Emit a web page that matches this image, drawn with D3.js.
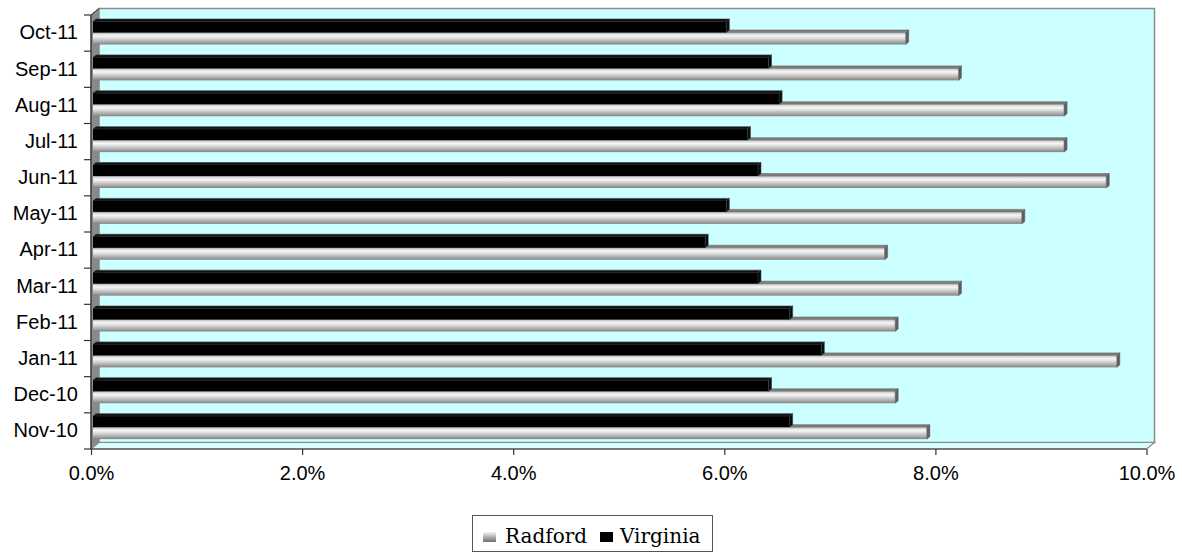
<!DOCTYPE html>
<html><head><meta charset="utf-8">
<script src="https://cdn.jsdelivr.net/npm/d3@7"></script>
<style>html,body{margin:0;padding:0;background:#fff;} svg{display:block;}</style>
</head><body>
<svg id="chart" width="1182" height="554"></svg>
<script>
const categories = ["Nov-10","Dec-10","Jan-11","Feb-11","Mar-11","Apr-11","May-11","Jun-11","Jul-11","Aug-11","Sep-11","Oct-11"];
const radford  = [7.9, 7.6, 9.7, 7.6, 8.2, 7.5, 8.8, 9.6, 9.2, 9.2, 8.2, 7.7];
const virginia = [6.6, 6.4, 6.9, 6.6, 6.3, 5.8, 6.0, 6.3, 6.2, 6.5, 6.4, 6.0];
const xTickValues = [0, 2, 4, 6, 8, 10];
const seriesNames = ["Radford", "Virginia"];

const svg = d3.select("#chart");
const defs = svg.append("defs");

// gradients
const g1 = defs.append("linearGradient").attr("id","gBar").attr("x1",0).attr("y1",0).attr("x2",0).attr("y2",1);
[[0,"#8c8c8c"],[0.1,"#d6d6d6"],[0.28,"#f7f7f7"],[0.5,"#d9d9d9"],[0.8,"#a6a6a6"],[1,"#828282"]]
  .forEach(([o,c]) => g1.append("stop").attr("offset",o).attr("stop-color",c));
const g2 = defs.append("linearGradient").attr("id","gSw").attr("x1",0).attr("y1",0).attr("x2",0).attr("y2",1);
[[0,"#f4f4f4"],[1,"#6e6e6e"]].forEach(([o,c]) => g2.append("stop").attr("offset",o).attr("stop-color",c));

const X0 = 91, X1 = 1146.5, YB = 449, YT = 15;
const DX = 8, DY = -6.5;      // wall depth
const BDX = 3, BDY = -2.5;    // bar depth

const x = d3.scaleLinear().domain([0, 10]).range([X0, X1]);
const yAxisScale = d3.scaleBand().domain(categories).range([YB, YT]);
const yBar = d3.scaleBand().domain(categories).range([446, 15.5]);

// walls
svg.append("polygon")
  .attr("points", [[X0,YT],[X0+DX,YT+DY],[X0+DX,YB+DY],[X0,YB]].join(" "))
  .attr("fill","#8a8a8a").attr("stroke","#6a6a6a").attr("stroke-width",1);
svg.append("rect")
  .attr("x", X0+DX).attr("y", YT+DY).attr("width", X1-X0).attr("height", YB-YT)
  .attr("fill","#ccffff").attr("stroke","#8c8c8c").attr("stroke-width",1.5);
svg.append("polygon")
  .attr("points", [[X0,YB],[X1,YB],[X1+DX,YB+DY],[X0+DX,YB+DY]].join(" "))
  .attr("fill","#d8ffff").attr("stroke","#8c8c8c").attr("stroke-width",1.2);

// bars
const barG = svg.append("g");
function drawBar(g, x0, x1, y, h, front, top, side, stroke) {
  g.append("polygon")
    .attr("points", [[x0,y],[x1,y],[x1+BDX,y+BDY],[x0+BDX,y+BDY]].join(" "))
    .attr("fill", top).attr("stroke", stroke).attr("stroke-width",0.6);
  g.append("rect").attr("x", x0).attr("y", y).attr("width", x1-x0).attr("height", h).attr("fill", front);
  g.append("polygon")
    .attr("points", [[x1,y],[x1+BDX,y+BDY],[x1+BDX,y+h+BDY],[x1,y+h]].join(" "))
    .attr("fill", side).attr("stroke", stroke).attr("stroke-width",0.6);
}
categories.forEach((c, i) => {
  const top = yBar(c);
  const g = barG.append("g");
  drawBar(g, x(0)+2, x(radford[i])+2, top+17, 12, "url(#gBar)", "#7c7c7c", "#5e5e5e", "#6a6a6a");
  drawBar(g, x(0)+2, x(virginia[i])+2, top+6, 11, "#000", "#111", "#0a0a0a", "#3a3a3a");
});

// axes lines
svg.append("line").attr("x1",X0).attr("x2",X0).attr("y1",YT).attr("y2",YB).attr("stroke","#333").attr("stroke-width",1.2);
svg.append("line").attr("x1",X0).attr("x2",X1).attr("y1",YB).attr("y2",YB).attr("stroke","#333").attr("stroke-width",1.2);
svg.append("line").attr("x1",X0).attr("x2",X0+DX).attr("y1",YT).attr("y2",YT+DY).attr("stroke","#333").attr("stroke-width",1);

// x axis
const xAxis = d3.axisBottom(x).tickValues(xTickValues).tickSize(6).tickPadding(11)
  .tickFormat(d => d.toFixed(1) + "%");
const xg = svg.append("g").attr("transform", `translate(0,${YB})`).call(xAxis);
xg.select(".domain").remove();
xg.selectAll(".tick line").attr("stroke","#333").attr("stroke-width",1.2);
xg.selectAll("text").attr("font-family","'Liberation Sans', Arial, sans-serif").attr("font-size",20).attr("fill","#000");

// y axis (labels at band centers, ticks at band boundaries)
const yAxis = d3.axisLeft(yAxisScale).tickSize(0).tickPadding(13);
const yg = svg.append("g").attr("transform", `translate(${X0},0)`).call(yAxis);
yg.select(".domain").remove();
yg.selectAll("text").attr("font-family","'Liberation Sans', Arial, sans-serif").attr("font-size",20).attr("fill","#000");
const bounds = categories.map(c => yAxisScale(c)).concat([YB]);
svg.append("g").selectAll("line").data(bounds).join("line")
  .attr("x1", X0-7).attr("x2", X0).attr("y1", d => d).attr("y2", d => d)
  .attr("stroke","#333").attr("stroke-width",1.2);

// legend
const lg = svg.append("g");
lg.append("rect").attr("x",472.5).attr("y",515.5).attr("width",240).attr("height",36)
  .attr("fill","#fff").attr("stroke","#555").attr("stroke-width",1);
const legendItems = [
  {name: seriesNames[0], fill: "url(#gSw)", sx: 483, tx: 505},
  {name: seriesNames[1], fill: "#000", sx: 600, tx: 620}
];
legendItems.forEach(it => {
  lg.append("rect").attr("x", it.sx).attr("y", 532).attr("width", 13).attr("height", 10).attr("fill", it.fill);
  lg.append("text").attr("x", it.tx).attr("y", 542.5).text(it.name)
    .attr("font-family","'DejaVu Serif', serif").attr("font-size",20).attr("fill","#000");
});
</script>
</body></html>
